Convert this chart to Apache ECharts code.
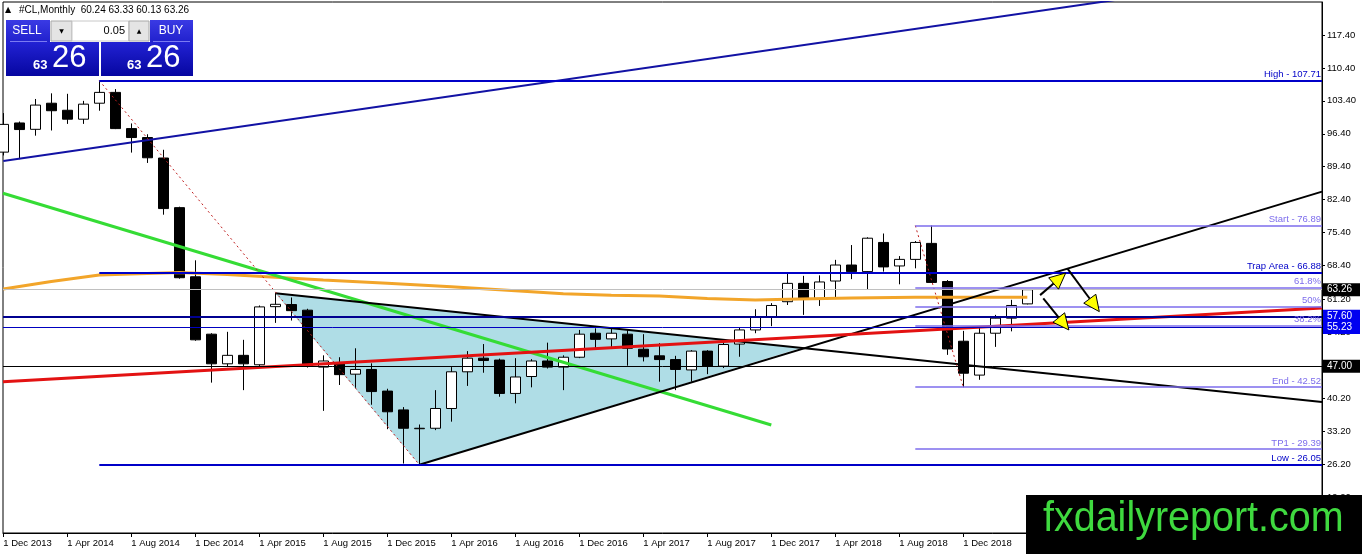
<!DOCTYPE html>
<html><head><meta charset="utf-8">
<script src="https://cdn.jsdelivr.net/npm/echarts@6/dist/echarts.min.js"></script>
<style>html,body{margin:0;padding:0;background:#fff}#c{width:1362px;height:554px}</style>
</head><body><div id="c"></div>
<script>
// ---- candle data (monthly, #CL) ----
const months = ['Dec 2013','Jan 2014','Feb 2014','Mar 2014','Apr 2014','May 2014','Jun 2014','Jul 2014','Aug 2014','Sep 2014',
 'Oct 2014','Nov 2014','Dec 2014','Jan 2015','Feb 2015','Mar 2015','Apr 2015','May 2015','Jun 2015','Jul 2015',
 'Aug 2015','Sep 2015','Oct 2015','Nov 2015','Dec 2015','Jan 2016','Feb 2016','Mar 2016','Apr 2016','May 2016',
 'Jun 2016','Jul 2016','Aug 2016','Sep 2016','Oct 2016','Nov 2016','Dec 2016','Jan 2017','Feb 2017','Mar 2017',
 'Apr 2017','May 2017','Jun 2017','Jul 2017','Aug 2017','Sep 2017','Oct 2017','Nov 2017','Dec 2017','Jan 2018',
 'Feb 2018','Mar 2018','Apr 2018','May 2018','Jun 2018','Jul 2018','Aug 2018','Sep 2018','Oct 2018','Nov 2018',
 'Dec 2018','Jan 2019','Feb 2019','Mar 2019','Apr 2019'];
const openP = [92.5,98.7,97.35,102.9,101.4,99.5,102.9,105.2,97.5,95.6,
 91.25,80.7,66.0,53.8,47.5,49.3,47.3,59.65,60.1,58.9,
 46.8,47.5,45.3,46.3,41.7,37.7,33.7,33.8,38.0,45.8,
 48.7,48.3,41.2,44.8,48.1,46.8,48.9,54.0,52.8,53.8,
 50.6,49.2,48.4,46.2,50.2,47.0,51.7,54.7,57.5,60.7,
 64.6,61.4,65.1,68.5,67.1,73.3,68.3,69.7,73.1,65.0,
 52.3,45.1,54.0,57.2,60.24];
const closeP = [98.4,97.3,102.5,101.3,99.5,102.7,105.2,97.5,95.6,91.3,
 80.5,65.8,52.6,47.5,49.3,47.5,59.6,60.15,58.8,47.1,
 48.1,45.2,46.3,41.6,37.3,33.8,33.8,38.0,45.8,48.7,
 48.2,41.2,44.7,48.1,46.8,48.9,53.8,52.7,54.0,50.8,
 49.0,48.4,46.3,50.2,47.0,51.6,54.7,57.5,59.9,64.6,
 61.4,64.9,68.5,67.1,74.2,68.1,69.7,73.3,64.8,50.65,
 45.5,54.0,57.2,59.9,63.26];
const lowP = [91.8,91.0,96.0,97.1,98.5,98.5,101.3,97.4,92.4,90.2,
 79.2,65.6,52.4,43.5,46.8,41.9,47.0,56.2,56.7,46.7,
 37.5,43.0,42.4,38.8,33.6,26.3,26.05,33.4,35.2,42.8,
 45.6,40.5,39.1,42.5,46.5,41.9,48.7,50.8,51.1,47.1,
 48.0,43.7,41.9,43.7,45.3,46.6,49.0,54.0,55.5,60.0,
 57.9,59.8,61.4,65.5,63.3,67.1,64.4,67.8,64.7,49.4,
 42.52,44.1,51.1,54.4,60.13];
const highP = [100.8,99.0,103.8,105.0,104.9,103.4,107.71,105.9,98.6,96.3,
 93.0,80.9,69.5,54.0,54.3,52.6,59.9,62.5,61.6,59.2,
 49.3,48.9,50.8,47.6,42.2,38.3,34.6,41.9,46.8,50.2,
 51.7,48.6,48.7,48.5,52.0,49.3,54.7,55.05,54.9,54.7,
 53.8,51.9,49.2,50.4,50.4,52.7,55.2,59.1,60.4,66.75,
 66.2,66.3,69.6,72.75,74.4,75.2,70.4,73.6,76.89,65.3,
 54.5,55.3,57.9,61.1,63.33];

// ---- axes ----
const xTickIndex = [0,4,8,12,16,20,24,28,32,36,40,44,48,52,56,60];
const xTickLabels = ['1 Dec 2013','1 Apr 2014','1 Aug 2014','1 Dec 2014','1 Apr 2015','1 Aug 2015','1 Dec 2015','1 Apr 2016',
 '1 Aug 2016','1 Dec 2016','1 Apr 2017','1 Aug 2017','1 Dec 2017','1 Apr 2018','1 Aug 2018','1 Dec 2018'];
const yTickValues = [117.4,110.4,103.4,96.4,89.4,82.4,75.4,68.4,61.2,54.2,47.0,40.2,33.2,26.2,19.2];

// ---- overlays (candle index, price) ----
const orangeMA = [[0,63.4],[3,65.0],[6,66.4],[11,66.9],[14,66.5],[20,65.3],[24,64.6],[28,63.9],[35,62.4],[38,62.1],
 [41,61.9],[44,61.4],[47,61.05],[49,61.2],[53,61.5],[57,61.65],[64,61.65]];
const blueChannel = [[0,90.62],[70,125.1]];
const greenLine = [[-0.02,83.75],[48,34.5]];
const redLine = [[-0.02,43.7],[82.42,59.34]];
const blackUpper = [[17,62.5],[82.42,39.4]];
const blackLower = [[26,26.05],[82.42,84.1]];
const triangle = [[17,62.5],[26,26.05],[49.8,50.8]];
const fibDots1 = [[6,107.71],[26,26.05]];
const fibDots2 = [[57,76.89],[60,42.52]];
const arrows = [[64.8,62.1,66.4,66.8],[66.5,67.8,68.5,58.6],[65.0,61.4,66.6,54.7]];
const bigFib = [{name:'High - 107.71', v:107.71},{name:'Trap Area - 66.88', v:66.88},{name:'Low - 26.05', v:26.05}];
const bigFibStart = 6;
const smallFib = [{name:'Start - 76.89', v:76.89},{name:'61.8%', v:63.76},{name:'50%', v:59.705},{name:'38.2%', v:55.65},
 {name:'End - 42.52', v:42.52},{name:'TP1 - 29.39', v:29.39}];
const smallFibStart = 57;
const priceLevels = [{v:63.26, bg:'#000', line:'#c0c0c0', w:1},{v:57.60, bg:'#0000f0', line:'#000090', w:2},
 {v:55.23, bg:'#0000f0', line:'#0000c0', w:1},{v:47.00, bg:'#000', line:'#000', w:1}];

const X_MIN = -0.01875, X_MAX = 82.4188;
const Y_MIN = 11.533, Y_MAX = 124.415;
const FONT = '"Liberation Sans", Arial, sans-serif';

const candles = months.map((m,i)=>[i, openP[i], closeP[i], lowP[i], highP[i]]);
const last = months.length-1;

function lineSeries(data, color, width, type, z){
  return {type:'line', data, symbol:'none', showSymbol:false, silent:true, clip:true, z:z||3,
    lineStyle:{color, width, type:type||'solid'}, animation:false};
}

const markData = [];
bigFib.forEach(f=>{
  markData.push([{coord:[bigFibStart,f.v], lineStyle:{color:'#0000c8', width:2, type:'solid'},
     label:{show:true, position:'insideEndTop', formatter:f.name, color:'#0000c8', fontSize:9.5, fontFamily:FONT, distance:[1,1]}},
     {coord:[X_MAX,f.v]}]);
});
smallFib.forEach(f=>{
  markData.push([{coord:[smallFibStart,f.v], lineStyle:{color:'#7c6cec', width:1.6, type:'solid'},
     label:{show:true, position:'insideEndTop', formatter:f.name, color:'#7c6cec', fontSize:9.5, fontFamily:FONT, distance:[1,1]}},
     {coord:[X_MAX,f.v]}]);
});
priceLevels.forEach(p=>{
  markData.push({yAxis:p.v, lineStyle:{color:p.line, width:p.w, type:'solid'},
    label:{show:true, position:'end', formatter:p.v.toFixed(2), color:'#fff', backgroundColor:p.bg,
      fontSize:10, fontFamily:FONT, padding:[2,3,1,4], width:30, lineHeight:10, distance:1}});
});

const chart = echarts.init(document.getElementById('c'), null, {renderer:'canvas'});
chart.setOption({
  animation:false,
  backgroundColor:'#fff',
  textStyle:{fontFamily:FONT},
  grid:{left:3, right:40, top:2, bottom:21, show:true, borderColor:'#000', borderWidth:1, backgroundColor:'transparent'},
  xAxis:{type:'value', min:X_MIN, max:X_MAX, splitLine:{show:false},
    axisLine:{show:true, onZero:false, lineStyle:{color:'#000', width:1}},
    axisTick:{show:true, customValues:xTickIndex, length:4, lineStyle:{color:'#000'}},
    axisLabel:{customValues:xTickIndex, align:'left', margin:5, color:'#000', fontSize:9.5, fontFamily:FONT,
      formatter:(v)=>xTickLabels[xTickIndex.indexOf(Math.round(v))]||''}},
  yAxis:{type:'value', position:'right', min:Y_MIN, max:Y_MAX, scale:true, splitLine:{show:false},
    axisLine:{show:true, onZero:false, lineStyle:{color:'#000', width:1}},
    axisTick:{show:true, customValues:yTickValues, length:3, lineStyle:{color:'#000'}},
    axisLabel:{customValues:yTickValues, margin:5, color:'#000', fontSize:9.5, fontFamily:FONT,
      formatter:(v)=>v.toFixed(2)}},
  series:[
    {type:'custom', silent:true, z:1, clip:true, data:[triangle[0]], encode:{x:0,y:1},
      renderItem:(params, api)=>({type:'polygon', shape:{points:triangle.map(p=>api.coord(p))}, style:{fill:'#afdde6'}})},
    {type:'candlestick', data:candles, barWidth:10, z:2, silent:true, clip:true,
      itemStyle:{color:'#fff', color0:'#000', borderColor:'#000', borderColor0:'#000', borderWidth:1}},
    lineSeries(orangeMA, '#f2a52a', 3, 'solid', 3),
    lineSeries(blueChannel, '#1212a4', 2, 'solid', 3),
    lineSeries(greenLine, '#35dc35', 3, 'solid', 3),
    lineSeries(blackUpper, '#000', 2, 'solid', 3),
    lineSeries(blackLower, '#000', 2, 'solid', 3),
    lineSeries(redLine, '#e31212', 3, 'solid', 3),
    lineSeries(fibDots1, '#c02020', 1, [2,3], 3),
    lineSeries(fibDots2, '#c02020', 1, [2,3], 3),
    {type:'line', data:[], silent:true, z:4, symbol:'none',
      markLine:{silent:true, symbol:['none','none'], animation:false, precision:2, data:markData}},
    {type:'custom', silent:true, z:6, clip:false, data:arrows, encode:{x:[0,2], y:[1,3]},
      renderItem:(params, api)=>{
        const a = api.coord([api.value(0), api.value(1)]);
        const b = api.coord([api.value(2), api.value(3)]);
        const dx=b[0]-a[0], dy=b[1]-a[1], L=Math.hypot(dx,dy), ux=dx/L, uy=dy/L;
        const hl=16, hw=7.5;
        const base=[b[0]-ux*hl, b[1]-uy*hl];
        const p1=[base[0]-uy*hw, base[1]+ux*hw], p2=[base[0]+uy*hw, base[1]-ux*hw];
        return {type:'group', children:[
          {type:'line', shape:{x1:a[0],y1:a[1],x2:base[0],y2:base[1]}, style:{stroke:'#000', lineWidth:2}},
          {type:'polygon', shape:{points:[b,p1,p2]}, style:{fill:'#ffff00', stroke:'#000', lineWidth:1}}
        ]};
      }}
  ],
  graphic:[
    {type:'text', x:5, y:10, z:100, style:{text:'▲', fill:'#000', font:'8px "DejaVu Sans"', textVerticalAlign:'middle'}},
    {type:'text', x:19, y:10, z:100, style:{text:'#CL,Monthly  '+openP[last].toFixed(2)+' '+highP[last].toFixed(2)+' '+lowP[last].toFixed(2)+' '+closeP[last].toFixed(2),
      fill:'#000', font:'10px '+FONT, textVerticalAlign:'middle'}},
    // SELL / BUY widget
    {type:'rect', z:100, shape:{x:6,y:20,width:44,height:23}, style:{fill:new echarts.graphic.LinearGradient(0,0,0,1,[{offset:0,color:'#3a3ae4'},{offset:1,color:'#2020cc'}])}},
    {type:'rect', z:100, shape:{x:150,y:20,width:43,height:23}, style:{fill:new echarts.graphic.LinearGradient(0,0,0,1,[{offset:0,color:'#3a3ae4'},{offset:1,color:'#2020cc'}])}},
    {type:'rect', z:100, shape:{x:6,y:42,width:93,height:34}, style:{fill:new echarts.graphic.LinearGradient(0,0,0,1,[{offset:0,color:'#2222d4'},{offset:1,color:'#0606a0'}])}},
    {type:'rect', z:100, shape:{x:101,y:42,width:92,height:34}, style:{fill:new echarts.graphic.LinearGradient(0,0,0,1,[{offset:0,color:'#2222d4'},{offset:1,color:'#0606a0'}])}},
    {type:'line', z:101, shape:{x1:10,y1:41.5,x2:47,y2:41.5}, style:{stroke:'#7a7af2', lineWidth:1}},
    {type:'line', z:101, shape:{x1:153,y1:41.5,x2:190,y2:41.5}, style:{stroke:'#7a7af2', lineWidth:1}},
    {type:'rect', z:100, shape:{x:51,y:21,width:21,height:20}, style:{fill:'#e4e4e4', stroke:'#a8a8a8', lineWidth:1}},
    {type:'rect', z:100, shape:{x:72,y:21,width:57,height:20}, style:{fill:'#fff', stroke:'#c8c8c8', lineWidth:1}},
    {type:'rect', z:100, shape:{x:129,y:21,width:20,height:20}, style:{fill:'#e4e4e4', stroke:'#a8a8a8', lineWidth:1}},
    {type:'text', z:101, x:61.5, y:31, style:{text:'▼', fill:'#000', font:'6px "DejaVu Sans"', textAlign:'center', textVerticalAlign:'middle'}},
    {type:'text', z:101, x:139, y:31, style:{text:'▲', fill:'#000', font:'6px "DejaVu Sans"', textAlign:'center', textVerticalAlign:'middle'}},
    {type:'text', z:101, x:125, y:31, style:{text:'0.05', fill:'#000', font:'11px '+FONT, textAlign:'right', textVerticalAlign:'middle'}},
    {type:'text', z:101, x:27, y:31, style:{text:'SELL', fill:'#fff', font:'12px '+FONT, textAlign:'center', textVerticalAlign:'middle'}},
    {type:'text', z:101, x:171, y:31, style:{text:'BUY', fill:'#fff', font:'12px '+FONT, textAlign:'center', textVerticalAlign:'middle'}},
    {type:'text', z:101, x:33, y:65, style:{text:'63', fill:'#fff', font:'bold 13px '+FONT, textVerticalAlign:'middle'}},
    {type:'text', z:101, x:52, y:58, style:{text:'26', fill:'#fff', font:'31px '+FONT, textVerticalAlign:'middle'}},
    {type:'text', z:101, x:127, y:65, style:{text:'63', fill:'#fff', font:'bold 13px '+FONT, textVerticalAlign:'middle'}},
    {type:'text', z:101, x:146, y:58, style:{text:'26', fill:'#fff', font:'31px '+FONT, textVerticalAlign:'middle'}},
    // banner
    {type:'rect', z:100, shape:{x:1026,y:495,width:336,height:59}, style:{fill:'#000'}},
    {type:'text', z:101, x:1043, y:519, scaleX:0.94, style:{text:'fxdailyreport.com', fill:'#3fd93f', font:'42px '+FONT, textVerticalAlign:'middle'}}
  ]
});
</script></body></html>
